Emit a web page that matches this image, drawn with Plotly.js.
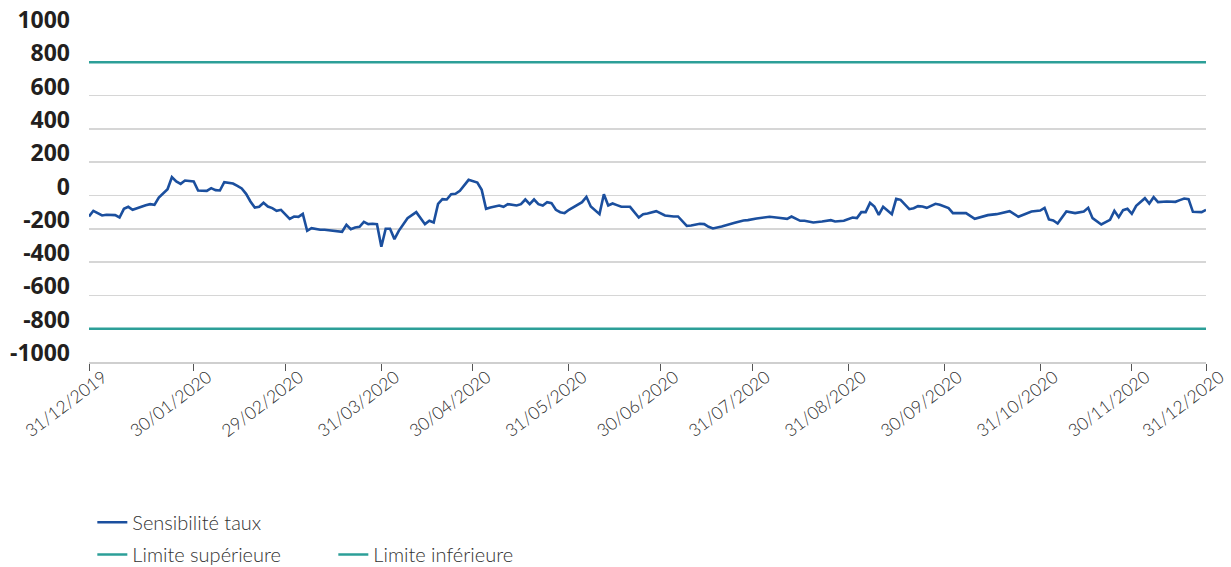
<!DOCTYPE html>
<html>
<head>
<meta charset="utf-8">
<script src="https://cdn.plot.ly/plotly-3.0.1.min.js"></script>
<style>html,body{margin:0;padding:0;background:#fff;}#chart{width:1231px;height:567px;}</style>
</head>
<body>
<div id="chart"></div>
<script>
// Observation index (business-day sequence) and interest-rate sensitivity values
const obsIndex = [0,1,3,4,6,7,8,9,10,11,13,14,15,16,18,19,20,21,22,24,25,27,28,29,30,31,33,34,35,36,37,38,39,40,41,42,43,44,45,46,47,48,49,50,51,53,54,56,58,59,60,61,62,63,64,65,66,67,68,69,70,71,72,73,75,76,77,78,79,80,81,82,83,84,85,87,88,89,90,91,92,93,94,95,96,98,99,100,101,102,103,104,105,106,107,108,109,110,111,113,114,115,117,118,119,120,121,122,124,126,127,128,130,131,132,134,135,137,138,140,141,142,143,145,146,148,150,151,153,155,156,158,160,161,163,164,166,168,169,170,171,173,175,176,177,178,179,180,181,182,183,184,185,186,188,189,190,191,192,194,195,197,198,200,201,203,205,206,208,210,211,213,215,216,218,219,220,221,222,224,226,228,229,230,232,234,235,236,237,238,239,240,242,243,244,245,247,249,250,251,252,253,255,256];
const sensibilite = [-126,-92,-120,-116,-118,-132,-80,-68,-86,-76,-58,-52,-56,-12,38,110,84,70,90,84,30,28,44,32,30,80,72,58,42,10,-36,-72,-68,-44,-66,-76,-92,-86,-112,-140,-126,-128,-110,-212,-196,-206,-206,-212,-218,-176,-202,-192,-188,-158,-172,-170,-172,-308,-200,-200,-262,-212,-176,-136,-100,-136,-172,-152,-162,-50,-22,-24,8,10,28,94,84,78,34,-80,-72,-68,-60,-68,-52,-60,-52,-24,-52,-24,-52,-60,-40,-46,-86,-100,-106,-86,-72,-40,-8,-66,-112,8,-60,-48,-58,-68,-68,-132,-112,-108,-94,-108,-120,-126,-126,-182,-180,-170,-172,-188,-198,-186,-180,-164,-150,-148,-138,-132,-128,-134,-140,-126,-152,-152,-162,-156,-150,-148,-156,-152,-132,-136,-100,-100,-44,-66,-116,-68,-90,-112,-20,-26,-82,-76,-64,-66,-74,-50,-56,-76,-106,-108,-106,-140,-124,-118,-112,-100,-94,-128,-104,-96,-90,-74,-144,-150,-168,-96,-106,-96,-74,-136,-174,-146,-92,-130,-88,-80,-110,-62,-16,-48,-10,-40,-36,-38,-28,-18,-22,-98,-100,-86];
const limiteSup = [800, 800];
const limiteInf = [-800, -800];
const limiteIndex = [0, 256];
const tickIndex = [0,24,45,67,88,110,131,152,174,196,218,239,256];
const tickLabels = ['31/12/2019','30/01/2020','29/02/2020','31/03/2020','30/04/2020','31/05/2020','30/06/2020','31/07/2020','31/08/2020','30/09/2020','31/10/2020','30/11/2020','31/12/2020'];
const yTicks = [-1000,-800,-600,-400,-200,0,200,400,600,800,1000];
const yLabels = ['-1000','-800','-600','-400','-200','0','200','400','600','800','1000'];

const teal = '#2c9f98';
const traces = [
  {x: obsIndex, y: sensibilite, type:'scatter', mode:'lines', name:'Sensibilité taux',
   line:{color:'#1b4f9e', width:2.6}, legend:'legend'},
  {x: limiteIndex, y: limiteSup, type:'scatter', mode:'lines', name:'Limite supérieure',
   line:{color:teal, width:2.4}, legend:'legend2'},
  {x: limiteIndex, y: limiteInf, type:'scatter', mode:'lines', name:'Limite inférieure',
   line:{color:teal, width:2.4}, legend:'legend2'}
];

const legendFont = {family:'Lato, "Noto Sans", sans-serif', size:20, color:'#333333', weight:300};
const layout = {
  width:1231, height:567,
  margin:{l:89, r:25, t:29, b:205},
  paper_bgcolor:'#ffffff', plot_bgcolor:'#ffffff',
  showlegend:true,
  xaxis:{
    range:[0,256], tickmode:'array', tickvals:tickIndex, ticktext:tickLabels,
    tickangle:-37, showgrid:false, zeroline:false,
    showline:true, linecolor:'#cfcfcf', linewidth:1.5,
    ticks:'outside', ticklen:7, tickcolor:'#555555', tickwidth:1,
    ticklabelshift:14, ticklabelstandoff:-10, ticklabeloverflow:'allow',
    tickfont:{family:'Lato, "Noto Sans", sans-serif', size:17.5, color:'#2b2b2b', weight:300}
  },
  yaxis:{
    range:[-1000,1000], tickmode:'array', tickvals:yTicks, ticktext:yLabels,
    showgrid:true, gridcolor:'#d6d6d6', gridwidth:1.5, zeroline:false,
    showline:false, ticks:'',
    ticklabelposition:'outside', ticklabelshift:-9, ticklabelstandoff:18,
    tickfont:{family:'"Open Sans", sans-serif', size:23, color:'#231f20', weight:700}
  },
  legend:{orientation:'h', xref:'container', yref:'container', x:0.075, y:0.079,
    xanchor:'left', yanchor:'middle', font:legendFont, bgcolor:'rgba(0,0,0,0)'},
  legend2:{orientation:'h', xref:'container', yref:'container', x:0.075, y:0.022,
    xanchor:'left', yanchor:'middle', font:legendFont, bgcolor:'rgba(0,0,0,0)',
    entrywidth:196}
};
Plotly.newPlot('chart', traces, layout, {displayModeBar:false, staticPlot:true});
</script>
</body>
</html>
